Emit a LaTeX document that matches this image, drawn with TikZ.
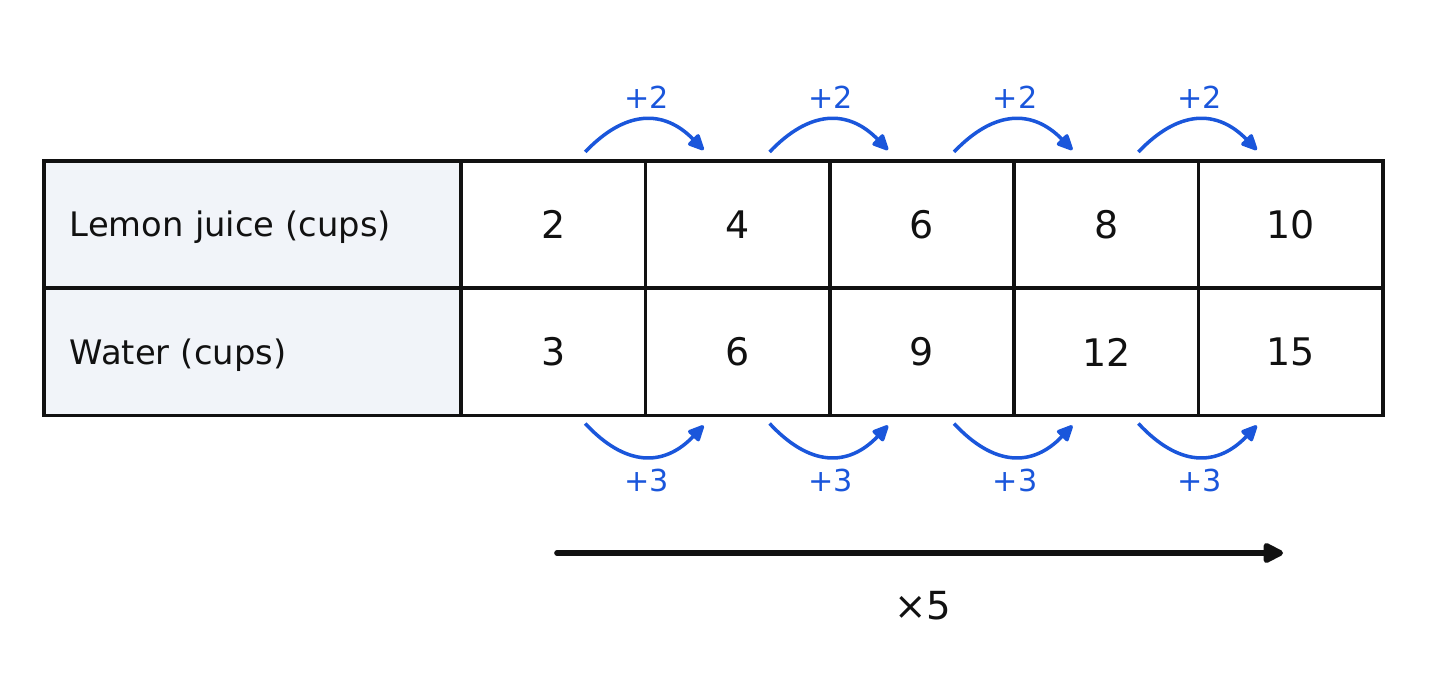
\documentclass[tikz,border=0pt]{standalone}
\usepackage{fontspec}
\setmainfont{DejaVu Sans}
\usetikzlibrary{arrows.meta,calc}
\definecolor{ink}{HTML}{111111}
\definecolor{stepblue}{HTML}{1A56DB}
\definecolor{headfill}{HTML}{F1F4F9}
\tikzset{
  cellbox/.style={draw=ink, line width=1pt, minimum width=1.844cm, minimum height=1.27cm,
    inner sep=0pt, outer sep=0pt, text=ink, font=\fontsize{10.8}{12}\selectfont},
  headbox/.style={draw=ink, line width=1pt, fill=headfill, minimum height=1.27cm,
    text width=3.65cm, inner xsep=0.26cm, inner ysep=0pt, outer sep=0pt, align=left,
    text height=7pt, text depth=0pt,
    text=ink, font=\fontsize{9.6}{11}\selectfont},
  hop/.style={draw=stepblue, line width=1pt, -{Triangle[length=5.2pt,width=4.6pt,round]}},
  hoplabel/.style={text=stepblue, font=\fontsize{8.6}{10}\selectfont, inner sep=0pt},
  scalearrow/.style={draw=ink, line width=1.6pt, line cap=round, -{Triangle[length=6.6pt,width=6.2pt,round]}},
}
\begin{document}
\begin{tikzpicture}[x=0.01cm, y=-0.01cm]
\useasboundingbox (0,0) rectangle (1434,686);
% header cells
\node[headbox] (h1) at (252.5,224.5) {Lemon juice (cups)};
\node[headbox] (h2) at (252.5,352) {Water (cups)};
% value cells
\foreach \i/\a/\b in {1/2/3,2/4/6,3/6/9,4/8/12,5/10/15}{
  \node[cellbox] (l\i) at ({461+(\i-0.5)*184.4},224.5) {\a};
  \node[cellbox] (w\i) at ({461+(\i-0.5)*184.4},352) {\b};
}
% hops
\foreach \i [evaluate=\i as \j using int(\i+1)] in {1,2,3,4}{
  \coordinate (ts\i) at ($(l\i.north)+(32,-9)$);
  \coordinate (te\i) at ($(l\j.north)+(-34,-11)$);
  \draw[hop] (ts\i) .. controls ($(ts\i)+(40,-42)$) and ($(te\i)+(-40,-41)$) .. (te\i);
  \node[hoplabel] (tl\i) at ($(l\i.north east)+(1,-64)$) {+2};
  \coordinate (bs\i) at ($(w\i.south)+(32,8)$);
  \coordinate (be\i) at ($(w\j.south)+(-34,10)$);
  \draw[hop] (bs\i) .. controls ($(bs\i)+(40,43)$) and ($(be\i)+(-40,42)$) .. (be\i);
  \node[hoplabel] (bl\i) at ($(w\i.south east)+(1,65)$) {+3};
}
% scale arrow
\coordinate (xs) at (557,553);
\coordinate (xe) at (1283,553);
\draw[scalearrow] (xs) -- (xe);
\node[text=ink, font=\fontsize{11}{12}\selectfont, inner sep=0pt] (xl) at (923,606) {×5};
\end{tikzpicture}
\end{document}
